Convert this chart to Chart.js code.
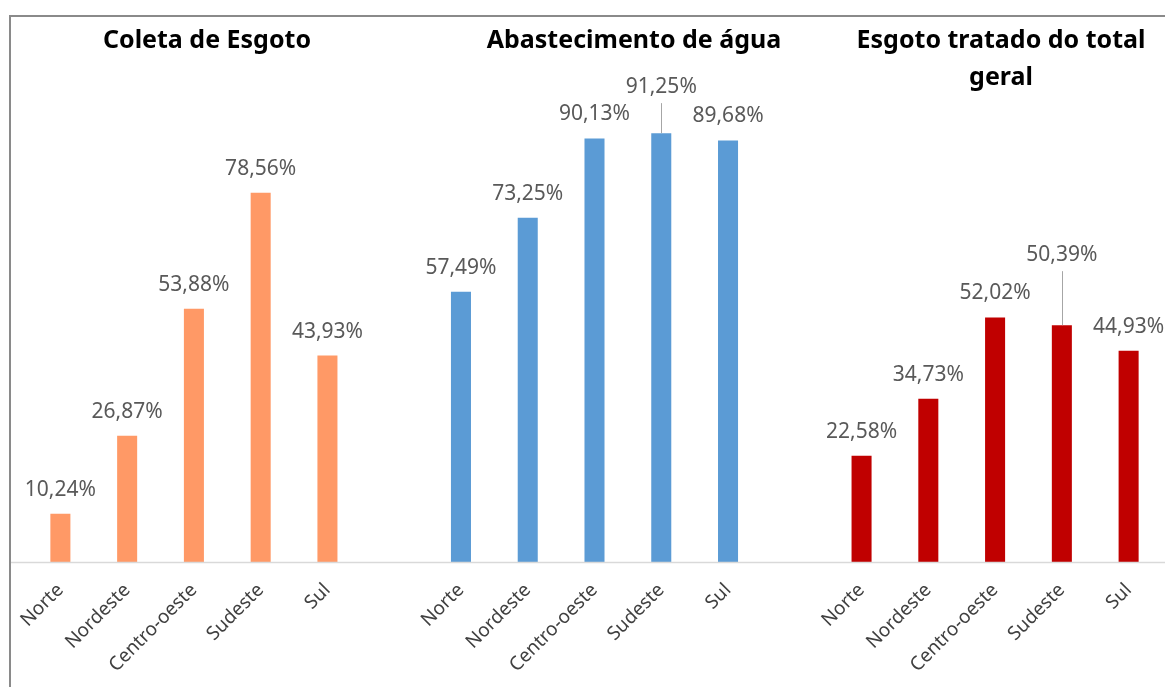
<!DOCTYPE html>
<html lang="pt">
<head>
    <meta charset="UTF-8">
    <title>Saneamento por região</title>
    <script src="https://cdn.jsdelivr.net/npm/chart.js"></script>
    <style>
        body {
            margin: 0;
            padding: 0;
            background: white;
            overflow: hidden;
            width: 1165px;
            height: 687px;
            position: relative;
            font-family: "Noto Sans", sans-serif;
        }
        .frame {
            position: absolute;
            left: 9px;
            top: 15px;
            width: 1300px;
            height: 800px;
            border: 2px solid #8a8a8a;
        }
        .title {
            position: absolute;
            transform: translateX(-50%);
            font-weight: bold;
            font-size: 25px;
            line-height: 37px;
            color: #000;
            text-align: center;
            white-space: nowrap;
        }
        canvas {
            position: absolute;
            left: 0;
            top: 0;
        }
    </style>
</head>
<body>
    <div class="frame"></div>
    <canvas id="saneamento" width="1165" height="687"></canvas>
    <div class="title" style="left:207px; top:20px;">Coleta de Esgoto</div>
    <div class="title" style="left:634px; top:20px;">Abastecimento de água</div>
    <div class="title" style="left:1001px; top:20px;">Esgoto tratado do total<br>geral</div>

    <script>
        // values (percent)
        const regioes = ['Norte', 'Nordeste', 'Centro-oeste', 'Sudeste', 'Sul'];
        const coletaEsgoto = [10.24, 26.87, 53.88, 78.56, 43.93];
        const abastecimentoAgua = [57.49, 73.25, 90.13, 91.25, 89.68];
        const esgotoTratado = [22.58, 34.73, 52.02, 50.39, 44.93];

        // labels pushed up with a leader line (dataset, region index, lift in px)
        const liftedLabels = [
            { dataset: 1, region: 3, lift: 46 },
            { dataset: 2, region: 3, lift: 70 }
        ];

        // three groups of five bars, with an empty slot between groups
        const labels = [...regioes, '', ...regioes, '', ...regioes];
        const gap = [null];
        const empty5 = [null, null, null, null, null];

        const datasets = [
            { label: 'Coleta de Esgoto', data: [...coletaEsgoto, ...gap, ...empty5, ...gap, ...empty5], backgroundColor: '#FF9966' },
            { label: 'Abastecimento de água', data: [...empty5, ...gap, ...abastecimentoAgua, ...gap, ...empty5], backgroundColor: '#5B9BD5' },
            { label: 'Esgoto tratado do total geral', data: [...empty5, ...gap, ...empty5, ...gap, ...esgotoTratado], backgroundColor: '#C00000' }
        ];

        const valueLabels = {
            id: 'valueLabels',
            afterDatasetsDraw(chart) {
                const ctx = chart.ctx;
                const yZero = chart.scales.y.getPixelForValue(0);
                ctx.save();
                // base line across the whole frame
                ctx.strokeStyle = '#d9d9d9';
                ctx.lineWidth = 1.5;
                ctx.beginPath();
                ctx.moveTo(11, yZero + 0.5);
                ctx.lineTo(chart.width, yZero + 0.5);
                ctx.stroke();

                ctx.font = '21px "Noto Sans"';
                ctx.fillStyle = '#595959';
                ctx.textAlign = 'center';
                ctx.textBaseline = 'middle';
                chart.data.datasets.forEach((ds, di) => {
                    const meta = chart.getDatasetMeta(di);
                    ds.data.forEach((v, i) => {
                        if (v === null) return;
                        const bar = meta.data[i];
                        const special = liftedLabels.find(l => l.dataset === di && l.region === i % 6);
                        const lift = special ? special.lift : 24;
                        const ty = bar.y - lift;
                        if (special) {
                            ctx.strokeStyle = '#a6a6a6';
                            ctx.lineWidth = 1;
                            ctx.beginPath();
                            ctx.moveTo(Math.round(bar.x) + 0.5, bar.y);
                            ctx.lineTo(Math.round(bar.x) + 0.5, ty + 16);
                            ctx.stroke();
                        }
                        ctx.fillText(v.toFixed(2).replace('.', ',') + '%', bar.x, ty);
                    });
                });
                ctx.restore();
            }
        };

        new Chart(document.getElementById('saneamento'), {
            type: 'bar',
            data: { labels: labels, datasets: datasets },
            options: {
                responsive: false,
                animation: false,
                layout: { padding: { top: 92, left: 27, right: 3, bottom: 0 } },
                datasets: {
                    bar: { grouped: false, barPercentage: 0.3, categoryPercentage: 1 }
                },
                scales: {
                    x: {
                        grid: { display: false, drawTicks: false },
                        border: { display: false },
                        ticks: {
                            autoSkip: false,
                            minRotation: 45,
                            maxRotation: 45,
                            padding: 17,
                            color: '#404040',
                            font: { family: 'Noto Sans', size: 19 }
                        },
                        afterFit(scale) { scale.height = 125; }
                    },
                    y: {
                        display: false,
                        min: 0,
                        max: 100
                    }
                },
                plugins: {
                    legend: { display: false },
                    tooltip: { enabled: false }
                }
            },
            plugins: [valueLabels]
        });
    </script>
</body>
</html>
